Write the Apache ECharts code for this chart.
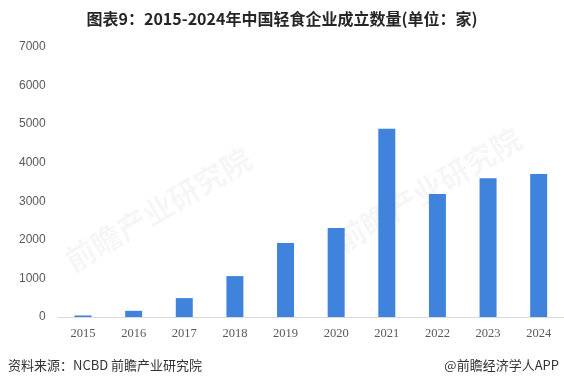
<!DOCTYPE html>
<html><head><meta charset="utf-8">
<script src="https://cdn.jsdelivr.net/npm/echarts@6/dist/echarts.min.js"></script>
<style>html,body{margin:0;padding:0;background:#fff}#c{width:564px;height:385px}</style>
</head><body><div id="c"></div>
<script>
const categories = ['2015','2016','2017','2018','2019','2020','2021','2022','2023','2024'];
const values = [40, 160, 490, 1060, 1920, 2310, 4880, 3190, 3600, 3710];
const yTicks = [0, 1000, 2000, 3000, 4000, 5000, 6000, 7000];
const titleText = '图表9：2015-2024年中国轻食企业成立数量(单位：家)';
const sourceText = '资料来源：NCBD 前瞻产业研究院';
const brandText = '@前瞻经济学人APP';

const chart = echarts.init(document.getElementById('c'), null, {renderer:'canvas'});
chart.setOption({
  animation:false,
  backgroundColor:'#fff',
  title:{text:titleText,left:'center',top:6,textStyle:{fontSize:16,fontWeight:'bold',color:'#262626',fontFamily:'"Noto Sans CJK SC", sans-serif'}},
  grid:{left:57.7,right:-4.7,top:47,bottom:68,containLabel:false},
  xAxis:{type:'category',data:categories,
    axisLine:{lineStyle:{color:'#d9d9d9'}},axisTick:{show:false},
    axisLabel:{color:'#595959',fontSize:12.5,fontFamily:'"Liberation Serif", serif',margin:10}},
  yAxis:{type:'value',min:yTicks[0],max:yTicks[yTicks.length-1],interval:1000,
    axisLine:{show:false},axisTick:{show:false},splitLine:{show:false},
    axisLabel:{color:'#595959',fontSize:12,fontFamily:'"Liberation Sans", Arial, sans-serif',margin:12,formatter:v=>String(v)}},
  series:[{type:'bar',data:values,barWidth:17,itemStyle:{color:'#3f83dd'}}],
  graphic:[
    {type:'text',left:8,top:359,style:{text:sourceText,fontSize:13,fill:'#333',fontFamily:'"Noto Sans CJK SC", sans-serif'}},
    {type:'text',right:5,top:359,style:{text:brandText,fontSize:13,fill:'#333',fontFamily:'"Noto Sans CJK SC", sans-serif'}},
    {type:'text',x:60,y:250,rotation:Math.PI*0.17,z:-1,style:{text:'前瞻产业研究院',fontSize:30,fontWeight:'bold',fill:'rgba(0,0,0,0.035)',fontFamily:'"Noto Sans CJK SC", sans-serif'}},
    {type:'text',x:330,y:230,rotation:Math.PI*0.17,z:-1,style:{text:'前瞻产业研究院',fontSize:30,fontWeight:'bold',fill:'rgba(0,0,0,0.035)',fontFamily:'"Noto Sans CJK SC", sans-serif'}}
  ]
});
</script></body></html>
